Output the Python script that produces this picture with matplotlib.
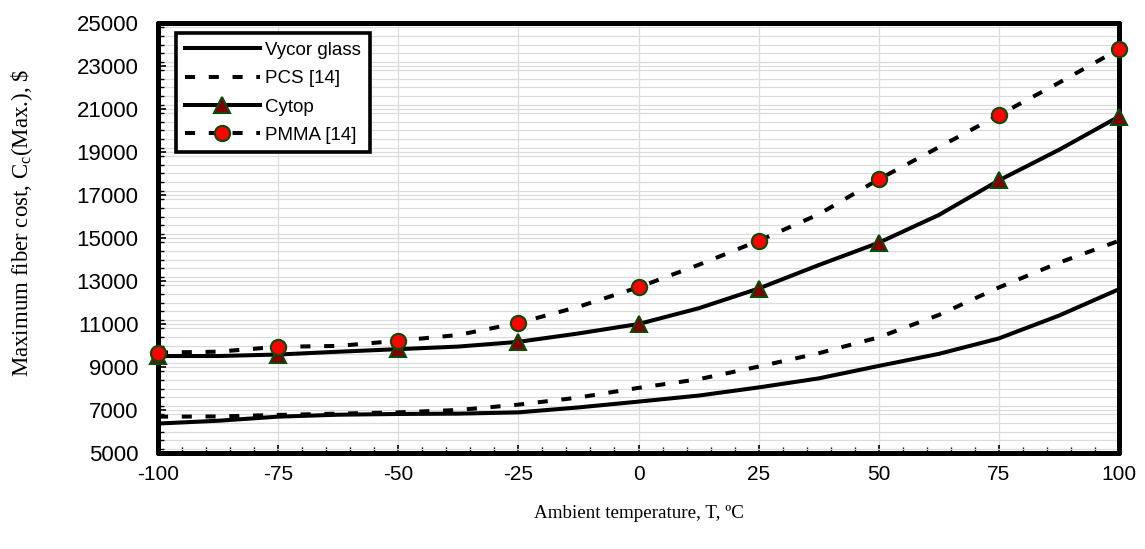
import matplotlib
matplotlib.use("Agg")
import matplotlib.pyplot as plt
from matplotlib.ticker import MultipleLocator

plt.rcParams['font.family'] = ['Liberation Sans', 'DejaVu Sans']
plt.rcParams['axes.unicode_minus'] = False
plt.rcParams['mathtext.fontset'] = 'custom'
plt.rcParams['mathtext.rm'] = 'Liberation Serif'
plt.rcParams['mathtext.it'] = 'Liberation Serif:italic'

# ---- data ----
temps = [-100, -87.5, -75, -62.5, -50, -37.5, -25, -12.5, 0,
         12.5, 25, 37.5, 50, 62.5, 75, 87.5, 100]
vycor = [6370, 6500, 6690, 6780, 6815, 6830, 6890, 7120, 7390,
         7670, 8050, 8470, 9050, 9610, 10330, 11390, 12620]
pcs = [6690, 6700, 6770, 6830, 6890, 7000, 7250, 7580, 8030,
       8430, 9020, 9640, 10380, 11420, 12700, 13850, 14870]
cytop = [9510, 9510, 9580, 9710, 9830, 9950, 10170, 10560, 11000,
         11730, 12650, 13740, 14780, 16070, 17680, 19100, 20650]
pmma = [9670, 9712, 9940, 9980, 10220, 10490, 11050, 11800, 12710,
        13750, 14870, 16100, 17730, 19220, 20720, 22220, 23780]

labels = ["Vycor glass", "PCS [14]", "Cytop", "PMMA [14]"]
xticks = [-100, -75, -50, -25, 0, 25, 50, 75, 100]
yticks = [5000, 7000, 9000, 11000, 13000, 15000, 17000, 19000, 21000, 23000, 25000]

fig = plt.figure(figsize=(11.45, 5.49), dpi=100)
ax = fig.add_axes([158/1145, 1 - 453/549, (1119-158)/1145, (453-23)/549])

lw = 2.9
dash = (2.5, 3.4)
ax.plot(temps, vycor, color='black', lw=lw, label=labels[0], zorder=3)
ax.plot(temps, pcs, color='black', lw=lw, dashes=dash, dash_capstyle='butt',
        label=labels[1], zorder=3)
ax.plot(temps, cytop, color='black', lw=lw, marker='^', markevery=2,
        markersize=11.5, markerfacecolor='#800000', markeredgecolor='#0b4a0b',
        markeredgewidth=1.5, label=labels[2], zorder=4, clip_on=False)
ax.plot(temps, pmma, color='black', lw=lw, dashes=dash, dash_capstyle='butt',
        marker='o', markevery=2, markersize=11, markerfacecolor='#ff0000',
        markeredgecolor='#0b4a0b', markeredgewidth=1.5, label=labels[3], zorder=5,
        clip_on=False)

ax.set_xlim(-100, 100)
ax.set_ylim(5000, 25000)
ax.set_xticks(xticks)
ax.set_yticks(yticks)
ax.xaxis.set_minor_locator(MultipleLocator(5))
ax.yaxis.set_minor_locator(MultipleLocator(400))

ax.grid(True, which='major', axis='x', color='#dcdcdc', lw=0.9, zorder=0)
ax.grid(True, which='both', axis='y', color='#dcdcdc', lw=0.9, zorder=0)
ax.set_axisbelow(True)

for s in ax.spines.values():
    s.set_linewidth(3.6)
    s.set_capstyle('round')
    s.set_joinstyle('round')

ax.tick_params(axis='both', which='major', direction='in', length=6, width=1.2,
               colors='black')
ax.tick_params(axis='both', which='minor', direction='in', length=4, width=1.0)
ax.tick_params(axis='y', which='major', pad=14, labelsize=16)
ax.tick_params(axis='x', which='major', pad=9, labelsize=15)

ax.set_xlabel("Ambient temperature, T, ºC", family='Liberation Serif', fontsize=13.7,
              labelpad=15)
ax.set_ylabel(r"Maximum fiber cost, C$_\mathrm{c}$(Max.), \$", family='Liberation Serif',
              fontsize=16.5)
ax.yaxis.set_label_coords(-0.128, 0.535)

leg = ax.legend(loc='upper left', bbox_to_anchor=(0.019, 0.976), fontsize=13.5,
                frameon=True, fancybox=False, framealpha=1, handlelength=4.0,
                handletextpad=0.3, borderpad=0.45, labelspacing=0.6, borderaxespad=0)
leg.get_frame().set_edgecolor('black')
leg.get_frame().set_linewidth(2.6)
leg.set_zorder(10)

fig.savefig("out.png", dpi=100)
